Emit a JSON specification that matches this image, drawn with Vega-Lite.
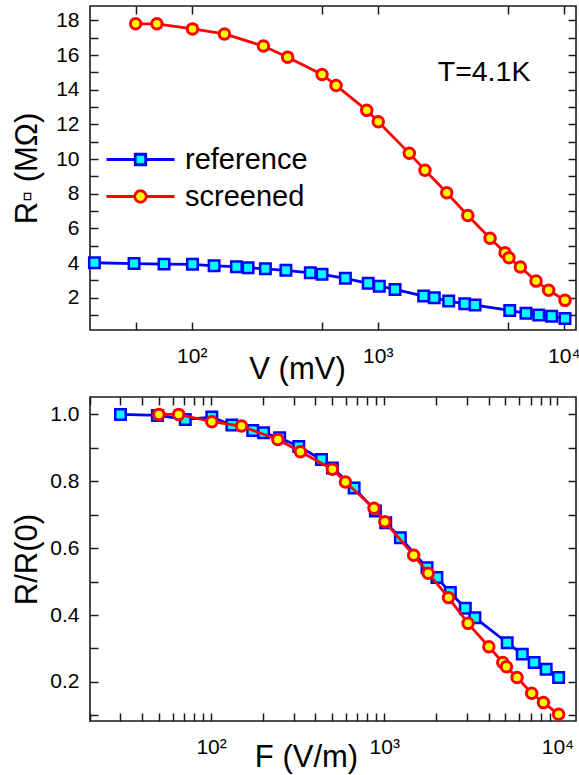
{
  "$schema": "https://vega.github.io/schema/vega-lite/v6.json",
  "background": "white",
  "padding": {"left": 10, "top": 4, "right": 4, "bottom": 5},
  "config": {
    "font": "Liberation Sans",
    "view": {"stroke": "#1a1a1a", "strokeWidth": 1.6},
    "axis": {
      "grid": false, "domain": false, "ticks": true, "tickColor": "#1a1a1a", "tickWidth": 1.5, "tickSize": -8,
      "labelFont": "Liberation Sans", "labelFontSize": 21, "labelColor": "#000",
      "titleFont": "Liberation Sans", "titleFontSize": 31, "titleFontWeight": "normal", "titleColor": "#000",
      "labelFlush": false, "labelOverlap": false, "labelBound": false
    }
  },
  "datasets": {
    "rv": [
      {"series": "reference", "V": 30, "R": 4.02},
      {"series": "reference", "V": 49, "R": 3.97},
      {"series": "reference", "V": 71, "R": 3.94},
      {"series": "reference", "V": 101, "R": 3.93},
      {"series": "reference", "V": 132, "R": 3.84},
      {"series": "reference", "V": 174, "R": 3.79},
      {"series": "reference", "V": 201, "R": 3.73},
      {"series": "reference", "V": 249, "R": 3.67},
      {"series": "reference", "V": 321, "R": 3.58},
      {"series": "reference", "V": 434, "R": 3.44},
      {"series": "reference", "V": 502, "R": 3.35},
      {"series": "reference", "V": 670, "R": 3.12},
      {"series": "reference", "V": 889, "R": 2.83},
      {"series": "reference", "V": 1020, "R": 2.67},
      {"series": "reference", "V": 1239, "R": 2.48},
      {"series": "reference", "V": 1766, "R": 2.10},
      {"series": "reference", "V": 2014, "R": 2.00},
      {"series": "reference", "V": 2408, "R": 1.81},
      {"series": "reference", "V": 2937, "R": 1.65},
      {"series": "reference", "V": 3337, "R": 1.58},
      {"series": "reference", "V": 5128, "R": 1.27},
      {"series": "reference", "V": 6268, "R": 1.10},
      {"series": "reference", "V": 7340, "R": 1.00},
      {"series": "reference", "V": 8610, "R": 0.93},
      {"series": "reference", "V": 10160, "R": 0.81},
      {"series": "screened", "V": 50, "R": 17.80},
      {"series": "screened", "V": 65, "R": 17.80},
      {"series": "screened", "V": 101, "R": 17.51},
      {"series": "screened", "V": 150, "R": 17.22},
      {"series": "screened", "V": 243, "R": 16.52},
      {"series": "screened", "V": 328, "R": 15.88},
      {"series": "screened", "V": 502, "R": 14.88},
      {"series": "screened", "V": 597, "R": 14.25},
      {"series": "screened", "V": 873, "R": 12.81},
      {"series": "screened", "V": 1007, "R": 12.15},
      {"series": "screened", "V": 1479, "R": 10.33},
      {"series": "screened", "V": 1795, "R": 9.36},
      {"series": "screened", "V": 2349, "R": 8.06},
      {"series": "screened", "V": 3048, "R": 6.75},
      {"series": "screened", "V": 4017, "R": 5.43},
      {"series": "screened", "V": 4835, "R": 4.60},
      {"series": "screened", "V": 5077, "R": 4.31},
      {"series": "screened", "V": 5846, "R": 3.77},
      {"series": "screened", "V": 7100, "R": 2.96},
      {"series": "screened", "V": 8300, "R": 2.43},
      {"series": "screened", "V": 10160, "R": 1.85}
    ],
    "rf": [
      {"series": "reference", "F": 30, "ratio": 1.0},
      {"series": "reference", "F": 49, "ratio": 0.997},
      {"series": "reference", "F": 71, "ratio": 0.985},
      {"series": "reference", "F": 101, "ratio": 0.992},
      {"series": "reference", "F": 132, "ratio": 0.968},
      {"series": "reference", "F": 174, "ratio": 0.952},
      {"series": "reference", "F": 201, "ratio": 0.945},
      {"series": "reference", "F": 249, "ratio": 0.93},
      {"series": "reference", "F": 321, "ratio": 0.904},
      {"series": "reference", "F": 434, "ratio": 0.865},
      {"series": "reference", "F": 502, "ratio": 0.84},
      {"series": "reference", "F": 670, "ratio": 0.78},
      {"series": "reference", "F": 889, "ratio": 0.711},
      {"series": "reference", "F": 1020, "ratio": 0.676},
      {"series": "reference", "F": 1239, "ratio": 0.631},
      {"series": "reference", "F": 1766, "ratio": 0.541},
      {"series": "reference", "F": 2014, "ratio": 0.512},
      {"series": "reference", "F": 2408, "ratio": 0.467},
      {"series": "reference", "F": 2937, "ratio": 0.42},
      {"series": "reference", "F": 3337, "ratio": 0.392},
      {"series": "reference", "F": 5128, "ratio": 0.317},
      {"series": "reference", "F": 6268, "ratio": 0.283},
      {"series": "reference", "F": 7340, "ratio": 0.258},
      {"series": "reference", "F": 8610, "ratio": 0.238},
      {"series": "reference", "F": 10160, "ratio": 0.213},
      {"series": "screened", "F": 50, "ratio": 1.0},
      {"series": "screened", "F": 65, "ratio": 1.0},
      {"series": "screened", "F": 101, "ratio": 0.978},
      {"series": "screened", "F": 150, "ratio": 0.965},
      {"series": "screened", "F": 243, "ratio": 0.925},
      {"series": "screened", "F": 328, "ratio": 0.888},
      {"series": "screened", "F": 502, "ratio": 0.836},
      {"series": "screened", "F": 597, "ratio": 0.798},
      {"series": "screened", "F": 873, "ratio": 0.719},
      {"series": "screened", "F": 1007, "ratio": 0.679},
      {"series": "screened", "F": 1479, "ratio": 0.579},
      {"series": "screened", "F": 1795, "ratio": 0.525},
      {"series": "screened", "F": 2349, "ratio": 0.452},
      {"series": "screened", "F": 3048, "ratio": 0.375},
      {"series": "screened", "F": 4017, "ratio": 0.305},
      {"series": "screened", "F": 4835, "ratio": 0.258},
      {"series": "screened", "F": 5077, "ratio": 0.245},
      {"series": "screened", "F": 5846, "ratio": 0.213},
      {"series": "screened", "F": 7100, "ratio": 0.166},
      {"series": "screened", "F": 8300, "ratio": 0.138},
      {"series": "screened", "F": 10160, "ratio": 0.103}
    ]
  },
  "spacing": 67,
  "bounds": "flush",
  "resolve": {"scale": {"color": "independent"}, "legend": {"color": "independent"}},
  "vconcat": [
    {
      "width": 486,
      "height": 324,
      "data": {"name": "rv"},
      "resolve": {"axis": {"x": "independent", "y": "independent"}},
      "layer": [
        {
          "transform": [{"filter": "datum.series === 'reference'"}],
          "mark": {"type": "line", "strokeWidth": 2.8},
          "encoding": {
            "x": {"field": "V", "type": "quantitative", "scale": {"type": "log", "domain": [28.4, 11640], "nice": false},
              "axis": {"orient": "bottom", "values": [50, 100, 500, 1000, 5000, 10000],
                "labelExpr": "datum.value == 100 ? '10²' : datum.value == 1000 ? '10³' : datum.value == 10000 ? '10⁴' : ''",
                "tickSize": -8,
                "encode": {"ticks": {"update": {"y2": {"signal": "(datum.value == 100 || datum.value == 1000 || datum.value == 10000) ? -8 : -4.5"}}}},
                "labelPadding": 23, "labelBaseline": "top",
                "title": "V (mV)", "titleX": 207, "titleY": 48, "titleBaseline": "alphabetic", "titleAlign": "center"}},
            "y": {"field": "R", "type": "quantitative", "scale": {"domain": [0.14, 18.83], "nice": false, "zero": false},
              "axis": {"orient": "left", "values": [1, 2, 3, 4, 5, 6, 7, 8, 9, 10, 11, 12, 13, 14, 15, 16, 17, 18],
                "labelExpr": "datum.value % 2 === 0 ? datum.label : ''",
                "tickSize": -8,
                "encode": {"ticks": {"update": {"x2": {"signal": "datum.value % 2 === 0 ? 8 : 4.5"}}}},
                "labelPadding": 19,
                "title": "R▫ (MΩ)", "titleX": -63, "titleAngle": 270, "titleBaseline": "middle", "titleAlign": "center"}},
            "color": {"field": "series", "type": "nominal",
              "scale": {"domain": ["reference", "screened"], "range": ["#0000ff", "#ff0000"]},
              "legend": {"orient": "none", "legendX": 36, "legendY": 139, "title": null, "padding": 0,
                "labelFont": "Liberation Sans", "labelFontSize": 29, "labelColor": "#000", "labelOffset": 30,
                "symbolSize": 144, "symbolStrokeWidth": 2.8, "rowPadding": 7,
                "encode": {"symbols": {"update": {
                  "shape": {"signal": "datum.value === 'reference' ? 'M-5.67,0L-0.875,0M0.875,0L5.67,0M-0.875,-0.875L0.875,-0.875L0.875,0.875L-0.875,0.875Z' : 'M-5.67,0L-0.96,0M0.96,0L5.67,0M-0.96,0A0.96,0.96,0,1,1,0.96,0A0.96,0.96,0,1,1,-0.96,0Z'"},
                  "fill": {"signal": "datum.value === 'reference' ? '#00ffff' : '#ffff00'"},
                  "stroke": {"signal": "datum.value === 'reference' ? '#0000ff' : '#ff0000'"},
                  "strokeWidth": {"value": 2.8},
                  "opacity": {"value": 1}
                }}}}}
          }
        },
        {
          "transform": [{"filter": "datum.series === 'reference'"}],
          "mark": {"type": "point", "shape": "square", "filled": true, "fill": "#00ffff", "stroke": "#0000ff", "strokeWidth": 2.5, "size": 110, "opacity": 1},
          "encoding": {
            "x": {"field": "V", "type": "quantitative", "scale": {"type": "log", "domain": [28.4, 11640], "nice": false}, "axis": null},
            "y": {"field": "R", "type": "quantitative", "scale": {"domain": [0.14, 18.83], "nice": false, "zero": false}, "axis": null}
          }
        },
        {
          "transform": [{"filter": "datum.series === 'screened'"}],
          "mark": {"type": "line", "strokeWidth": 2.8},
          "encoding": {
            "x": {"field": "V", "type": "quantitative", "scale": {"type": "log", "domain": [28.4, 11640], "nice": false}, "axis": null},
            "y": {"field": "R", "type": "quantitative", "scale": {"domain": [0.14, 18.83], "nice": false, "zero": false}, "axis": null},
            "color": {"field": "series", "type": "nominal", "scale": {"domain": ["reference", "screened"], "range": ["#0000ff", "#ff0000"]}}
          }
        },
        {
          "transform": [{"filter": "datum.series === 'screened'"}],
          "mark": {"type": "point", "shape": "circle", "filled": true, "fill": "#ffff00", "stroke": "#ff0000", "strokeWidth": 3, "size": 110, "opacity": 1},
          "encoding": {
            "x": {"field": "V", "type": "quantitative", "scale": {"type": "log", "domain": [28.4, 11640], "nice": false}, "axis": null},
            "y": {"field": "R", "type": "quantitative", "scale": {"domain": [0.14, 18.83], "nice": false, "zero": false}, "axis": null}
          }
        },
        {
          "data": {"values": [{}]},
          "mark": {"type": "text", "text": "T=4.1K", "font": "Liberation Sans", "fontSize": 28.5, "align": "center", "baseline": "middle", "color": "#000"},
          "encoding": {
            "x": {"datum": 3730, "type": "quantitative", "axis": null},
            "y": {"datum": 15.0, "type": "quantitative", "axis": null}
          }
        },
        {
          "mark": {"type": "point", "opacity": 0},
          "encoding": {
            "x": {"field": "V", "type": "quantitative", "scale": {"type": "log", "domain": [28.4, 11640], "nice": false},
              "axis": {"orient": "top", "values": [50, 100, 500, 1000, 5000, 10000], "labels": false, "title": null,
                "tickSize": -8,
                "encode": {"ticks": {"update": {"y2": {"signal": "(datum.value == 100 || datum.value == 1000 || datum.value == 10000) ? 8 : 4.5"}}}}}},
            "y": {"field": "R", "type": "quantitative", "scale": {"domain": [0.14, 18.83], "nice": false, "zero": false},
              "axis": {"orient": "right", "values": [1, 2, 3, 4, 5, 6, 7, 8, 9, 10, 11, 12, 13, 14, 15, 16, 17, 18], "labels": false, "title": null,
                "tickSize": -8,
                "encode": {"ticks": {"update": {"x2": {"signal": "datum.value % 2 === 0 ? -8 : -4.5"}}}}}}
          }
        }
      ]
    },
    {
      "width": 486,
      "height": 324,
      "data": {"name": "rf"},
      "resolve": {"axis": {"x": "independent", "y": "independent"}},
      "layer": [
        {
          "transform": [{"filter": "datum.series === 'reference'"}],
          "mark": {"type": "line", "strokeWidth": 2.8, "color": "#0000ff"},
          "encoding": {
            "x": {"field": "F", "type": "quantitative", "scale": {"type": "log", "domain": [20, 12800], "nice": false},
              "axis": {"orient": "bottom", "values": [20, 30, 40, 50, 60, 70, 80, 90, 100, 200, 300, 400, 500, 600, 700, 800, 900, 1000, 2000, 3000, 4000, 5000, 6000, 7000, 8000, 9000, 10000],
                "labelExpr": "datum.value == 100 ? '10²' : datum.value == 1000 ? '10³' : datum.value == 10000 ? '10⁴' : ''",
                "tickSize": -8,
                "encode": {"ticks": {"update": {"y2": {"signal": "(datum.value == 100 || datum.value == 1000 || datum.value == 10000) ? -8 : -4.5"}}}},
                "labelPadding": 23, "labelBaseline": "top",
                "title": "F (V/m)", "titleX": 216, "titleY": 45, "titleBaseline": "alphabetic", "titleAlign": "center"}},
            "y": {"field": "ratio", "type": "quantitative", "scale": {"domain": [0.083, 1.052], "nice": false, "zero": false},
              "axis": {"orient": "left", "values": [0.1, 0.2, 0.3, 0.4, 0.5, 0.6, 0.7, 0.8, 0.9, 1.0],
                "labelExpr": "round(datum.value * 10) % 2 === 0 ? format(datum.value, '.1f') : ''",
                "tickSize": -8,
                "encode": {"ticks": {"update": {"x2": {"signal": "round(datum.value * 10) % 2 === 0 ? 8 : 4.5"}}}},
                "labelPadding": 19,
                "title": "R/R(0)", "titleX": -63, "titleAngle": 270, "titleBaseline": "middle", "titleAlign": "center"}}
          }
        },
        {
          "transform": [{"filter": "datum.series === 'reference'"}],
          "mark": {"type": "point", "shape": "square", "filled": true, "fill": "#00ffff", "stroke": "#0000ff", "strokeWidth": 2.5, "size": 110, "opacity": 1},
          "encoding": {
            "x": {"field": "F", "type": "quantitative", "scale": {"type": "log", "domain": [20, 12800], "nice": false}, "axis": null},
            "y": {"field": "ratio", "type": "quantitative", "scale": {"domain": [0.083, 1.052], "nice": false, "zero": false}, "axis": null}
          }
        },
        {
          "transform": [{"filter": "datum.series === 'screened'"}],
          "mark": {"type": "line", "strokeWidth": 2.8, "color": "#ff0000"},
          "encoding": {
            "x": {"field": "F", "type": "quantitative", "scale": {"type": "log", "domain": [20, 12800], "nice": false}, "axis": null},
            "y": {"field": "ratio", "type": "quantitative", "scale": {"domain": [0.083, 1.052], "nice": false, "zero": false}, "axis": null}
          }
        },
        {
          "transform": [{"filter": "datum.series === 'screened'"}],
          "mark": {"type": "point", "shape": "circle", "filled": true, "fill": "#ffff00", "stroke": "#ff0000", "strokeWidth": 3, "size": 110, "opacity": 1},
          "encoding": {
            "x": {"field": "F", "type": "quantitative", "scale": {"type": "log", "domain": [20, 12800], "nice": false}, "axis": null},
            "y": {"field": "ratio", "type": "quantitative", "scale": {"domain": [0.083, 1.052], "nice": false, "zero": false}, "axis": null}
          }
        },
        {
          "mark": {"type": "point", "opacity": 0},
          "encoding": {
            "x": {"field": "F", "type": "quantitative", "scale": {"type": "log", "domain": [20, 12800], "nice": false},
              "axis": {"orient": "top", "values": [20, 30, 40, 50, 60, 70, 80, 90, 100, 200, 300, 400, 500, 600, 700, 800, 900, 1000, 2000, 3000, 4000, 5000, 6000, 7000, 8000, 9000, 10000], "labels": false, "title": null,
                "tickSize": -8,
                "encode": {"ticks": {"update": {"y2": {"signal": "(datum.value == 100 || datum.value == 1000 || datum.value == 10000) ? 8 : 4.5"}}}}}},
            "y": {"field": "ratio", "type": "quantitative", "scale": {"domain": [0.083, 1.052], "nice": false, "zero": false},
              "axis": {"orient": "right", "values": [0.1, 0.2, 0.3, 0.4, 0.5, 0.6, 0.7, 0.8, 0.9, 1.0], "labels": false, "title": null,
                "tickSize": -8,
                "encode": {"ticks": {"update": {"x2": {"signal": "round(datum.value * 10) % 2 === 0 ? -8 : -4.5"}}}}}}
          }
        }
      ]
    }
  ]
}
